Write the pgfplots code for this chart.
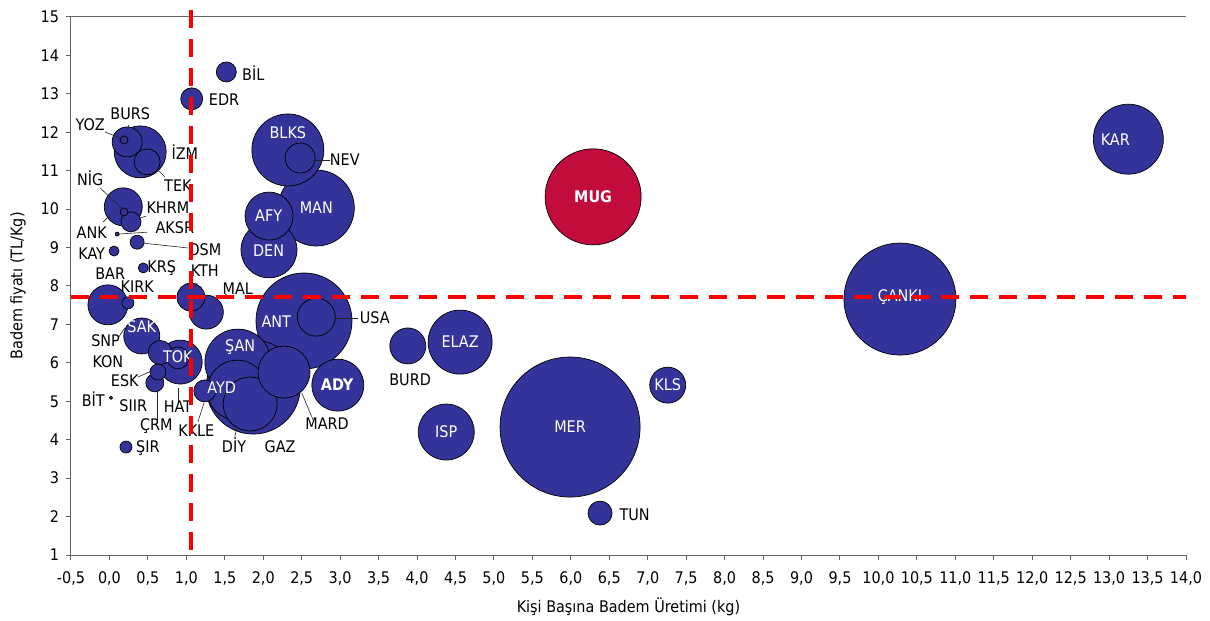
\documentclass[border=0pt]{standalone}
\usepackage{pgfplots}
\pgfplotsset{compat=1.18}
\usepackage{pgfplotstable}
\usepackage{fontspec}
\setmainfont{DejaVu Sans Condensed}
\definecolor{bub}{RGB}{51,51,153}
\definecolor{mug}{RGB}{193,12,60}
\definecolor{axgray}{RGB}{100,100,100}

% x y r(pt) -- sorted by size, largest first
\pgfplotstableread{
x y r
5.99 4.33 35
10.28 7.66 28
2.53 7.09 24
1.87 5.37 23.5
2.69 10.03 19
2.32 11.54 18
13.25 11.82 17.5
1.67 6.02 16.5
4.56 6.54 16
1.66 5.29 15
2.075 8.94 14
4.38 4.20 14
1.83 4.93 13.5
2.97 5.42 13
2.27 5.76 13
0.40 11.49 13
2.075 9.82 12
0.92 6.02 11
-0.02 7.51 10
0.18 10.06 9.5
2.69 7.19 9.5
3.88 6.44 9
7.26 5.42 9
0.42 6.70 9
1.26 7.32 8.5
2.48 11.33 7.5
0.23 11.75 7.5
1.06 7.71 7
0.66 6.27 6
0.49 11.23 6.5
6.38 2.09 6
1.07 12.87 5.5
1.24 5.27 5.5
0.89 6.13 5.5
1.52 13.57 5
0.28 9.67 5
0.59 5.48 4.5
0.63 5.76 4
0.36 9.14 3.5
0.215 3.81 3
0.24 7.56 3
0.06 8.91 2.5
0.44 8.47 2.5
0.19 11.80 2
0.19 9.93 2
0.10 9.35 1
0.02 5.09 0.8
}\bubbles

\begin{document}
\begin{tikzpicture}[font=\fontsize{8}{9.6}\selectfont]
\begin{axis}[
  set layers,
  scale only axis, width=557.5pt, height=269pt,
  xmin=-0.5, xmax=14, ymin=1, ymax=15,
  xtick distance=0.5, ytick distance=1,
  axis x line*=bottom, axis y line*=left,
  axis line style={-, axgray, line width=0.5pt},
  tick align=outside, tick style={axgray, line width=0.5pt}, major tick length=2.5pt,
  /pgf/number format/assume math mode=true,
  xticklabel style={yshift=-2.5pt, /pgf/number format/.cd, fixed, fixed zerofill, precision=1, use comma},
  ticklabel style={font=\fontsize{8}{9.6}\selectfont},
  xlabel={Kişi Başına Badem Üretimi (kg)}, ylabel={Badem fiyatı (TL/Kg)},
  xlabel style={at={(axis description cs:0.5,-0.0967)}, anchor=center},
  ylabel style={at={(axis description cs:-0.0475,0.5)}, anchor=center},
  clip=false,
]
\draw[axgray, line width=0.5pt] (axis cs:-0.5,15) -- (axis cs:14,15);

\addplot[scatter, only marks, mark=*,
  scatter/use mapped color={draw=black, fill=bub},
  visualization depends on={\thisrow{r}\as\rr},
  scatter/@pre marker code/.append style={/tikz/mark size=\rr pt},
  mark options={line width=0.35pt}]
  table[x=x, y=y, meta=r]{\bubbles};

\addplot[only marks, mark=*, mark size=24pt,
  mark options={fill=mug, draw=black, line width=0.35pt}]
  coordinates {(6.29,10.32)};

% reference lines (on top of everything)
\addplot[on layer=axis foreground, red, line width=2pt, dash pattern=on 9pt off 5.5pt] coordinates {(1.06,15.18) (1.06,1)};
\addplot[on layer=axis foreground, red, line width=2pt, dash pattern=on 9pt off 5.5pt] coordinates {(-0.5,7.71) (14,7.71)};

\begin{pgfonlayer}{axis descriptions}
% leader lines
\begin{scope}[black!85, line width=0.3pt]
\draw (axis cs:-0.06,12.01) -- (axis cs:0.18,11.82);
\draw (axis cs:0.25,12.19) -- (axis cs:0.24,12.09);
\draw (axis cs:0.63,11.02) -- (axis cs:0.72,10.84);
\draw (axis cs:-0.12,10.55) -- (axis cs:0.18,9.98);
\draw (axis cs:0.40,9.77) -- (axis cs:0.48,9.82);
\draw (axis cs:-0.08,9.67) -- (axis cs:0.01,9.85);
\draw (axis cs:0.10,9.35) -- (axis cs:0.49,9.40);
\draw (axis cs:0.42,9.12) -- (axis cs:1.02,8.99);
\draw (axis cs:1.14,8.08) -- (axis cs:1.11,7.97);
\draw (axis cs:1.48,7.71) -- (axis cs:1.52,7.79);
\draw (axis cs:0.37,7.77) -- (axis cs:0.29,7.64);
\draw (axis cs:0.12,6.67) -- (axis cs:0.20,6.91);
\draw (axis cs:0.37,5.63) -- (axis cs:0.55,5.79);
\draw (axis cs:0.62,4.46) -- (axis cs:0.62,5.27);
\draw (axis cs:0.89,4.98) -- (axis cs:0.89,5.35);
\draw (axis cs:1.15,4.46) -- (axis cs:1.23,4.96);
\draw (axis cs:1.63,4.07) -- (axis cs:1.66,4.38);
\draw (axis cs:2.65,4.51) -- (axis cs:2.50,5.22);
\draw (axis cs:2.93,7.17) -- (axis cs:3.23,7.17);
\draw (axis cs:2.65,11.28) -- (axis cs:2.87,11.28);
\end{scope}

% outside labels
\begin{scope}[every node/.style={inner sep=0pt, text=black}]
\node at (axis cs:1.87,13.54) {BİL};
\node at (axis cs:1.49,12.84) {EDR};
\node at (axis cs:-0.25,12.19) {YOZ};
\node at (axis cs:0.27,12.48) {BURS};
\node at (axis cs:0.98,11.49) {İZM};
\node at (axis cs:0.89,10.60) {TEK};
\node at (axis cs:-0.25,10.81) {NİG};
\node at (axis cs:0.76,10.03) {KHRM};
\node at (axis cs:-0.23,9.38) {ANK};
\node at (axis cs:0.85,9.51) {AKSR};
\node at (axis cs:-0.23,8.83) {KAY};
\node at (axis cs:1.24,8.94) {OSM};
\node at (axis cs:0.68,8.47) {KRŞ};
\node at (axis cs:1.24,8.39) {KTH};
\node at (axis cs:0.01,8.31) {BAR};
\node at (axis cs:0.36,7.97) {KIRK};
\node at (axis cs:1.67,7.92) {MAL};
\node at (axis cs:-0.05,6.57) {SNP};
\node at (axis cs:-0.02,6.02) {KON};
\node at (axis cs:0.20,5.53) {ESK};
\node at (axis cs:-0.21,5.06) {BİT};
\node at (axis cs:0.31,4.88) {SIIR};
\node at (axis cs:0.89,4.85) {HAT};
\node at (axis cs:0.61,4.36) {ÇRM};
\node at (axis cs:1.13,4.23) {KKLE};
\node at (axis cs:1.62,3.86) {DİY};
\node at (axis cs:2.22,3.81) {GAZ};
\node at (axis cs:2.83,4.41) {MARD};
\node at (axis cs:0.50,3.78) {ŞIR};
\node at (axis cs:3.91,5.55) {BURD};
\node at (axis cs:3.45,7.17) {USA};
\node at (axis cs:3.06,11.30) {NEV};
\node at (axis cs:6.83,2.04) {TUN};
\end{scope}

% inside labels
\begin{scope}[every node/.style={inner sep=0pt, text=white}]
\node at (axis cs:0.42,6.93) {SAK};
\node at (axis cs:0.89,6.15) {TOK};
\node at (axis cs:1.70,6.41) {ŞAN};
\node at (axis cs:1.46,5.35) {AYD};
\node at (axis cs:2.17,7.06) {ANT};
\node[font=\fontsize{8}{9.6}\selectfont\bfseries] at (axis cs:2.96,5.42) {ADY};
\node at (axis cs:2.32,11.98) {BLKS};
\node at (axis cs:2.07,9.82) {AFY};
\node at (axis cs:2.69,10.03) {MAN};
\node at (axis cs:2.07,8.91) {DEN};
\node at (axis cs:4.56,6.54) {ELAZ};
\node at (axis cs:4.38,4.20) {ISP};
\node at (axis cs:5.99,4.33) {MER};
\node at (axis cs:7.26,5.42) {KLS};
\node at (axis cs:13.08,11.80) {KAR};
\node at (axis cs:10.28,7.71) {ÇANKI};
\node[font=\fontsize{8}{9.6}\selectfont\bfseries] at (axis cs:6.29,10.32) {MUG};
\end{scope}
\end{pgfonlayer}
\end{axis}
\pgfresetboundingbox
\path ([shift={(-35.5pt,-33pt)}]current axis.south west) rectangle ([shift={(12pt,8.5pt)}]current axis.north east);
\end{tikzpicture}
\end{document}
